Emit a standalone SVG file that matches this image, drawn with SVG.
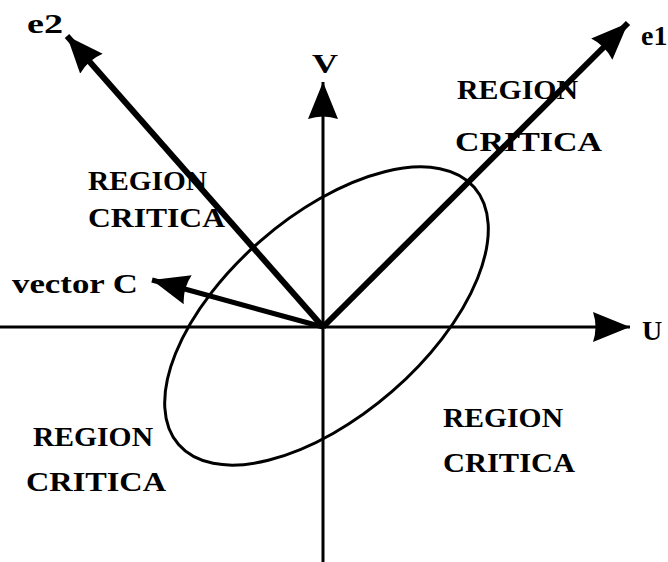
<svg xmlns="http://www.w3.org/2000/svg" width="668" height="562" viewBox="0 0 668 562">
<style>
.t{font-family:"Liberation Serif","Times New Roman",serif;font-size:28px;font-weight:bold;fill:#000;}
.ln{stroke:#000;fill:none;stroke-linecap:butt;}
</style>
<defs>
<marker id="ah" markerUnits="userSpaceOnUse" markerWidth="42" markerHeight="34" refX="37" refY="15" orient="auto">
<path d="M0,0 L37,15 L0,30 Q5,15 0,0 z" fill="#000"/>
</marker>
</defs>
<rect width="668" height="562" fill="#fff"/>
<g id="connectors">
<line id="axis-u" class="ln" x1="0" y1="327" x2="630" y2="327" stroke-width="3" marker-end="url(#ah)"/>
<line id="axis-v" class="ln" x1="323" y1="562" x2="323" y2="82" stroke-width="3" marker-end="url(#ah)"/>
<line id="e1" class="ln" x1="323" y1="327" x2="628" y2="23" stroke-width="6" marker-end="url(#ah)"/>
<line id="e2" class="ln" x1="323" y1="327" x2="67" y2="36" stroke-width="6" marker-end="url(#ah)"/>
<line id="vc" class="ln" x1="323" y1="327" x2="152" y2="280" stroke-width="5" marker-end="url(#ah)"/>
</g>
<g id="ellipse">
<ellipse cx="326.5" cy="316" rx="196" ry="100" transform="rotate(-41 326.5 316)" class="ln" stroke-width="3"/>
</g>
<g id="labels">
<text class="t" x="27" y="33" font-size="30" textLength="36" lengthAdjust="spacingAndGlyphs">e2</text>
<text class="t" x="641" y="45" font-size="30">e1</text>
<text class="t" x="312" y="73" font-size="32" textLength="26" lengthAdjust="spacingAndGlyphs">V</text>
<text class="t" x="642" y="340" font-size="30">U</text>
<text class="t" x="12" y="293" font-weight="normal" font-size="30" textLength="126" lengthAdjust="spacingAndGlyphs">vector  C</text>
</g>
<g id="region-ur">
<text class="t" x="457" y="99" textLength="121" lengthAdjust="spacingAndGlyphs">REGION</text>
<text class="t" x="455" y="151" textLength="147" lengthAdjust="spacingAndGlyphs">CRITICA</text>
</g>
<g id="region-ul">
<text class="t" x="88" y="190" textLength="119" lengthAdjust="spacingAndGlyphs">REGION</text>
<text class="t" x="88" y="227" textLength="137" lengthAdjust="spacingAndGlyphs">CRITICA</text>
</g>
<g id="region-ll">
<text class="t" x="33" y="446" textLength="120" lengthAdjust="spacingAndGlyphs">REGION</text>
<text class="t" x="26" y="491" textLength="140" lengthAdjust="spacingAndGlyphs">CRITICA</text>
</g>
<g id="region-lr">
<text class="t" x="443" y="427" textLength="120" lengthAdjust="spacingAndGlyphs">REGION</text>
<text class="t" x="443" y="472" textLength="132" lengthAdjust="spacingAndGlyphs">CRITICA</text>
</g>
</svg>
